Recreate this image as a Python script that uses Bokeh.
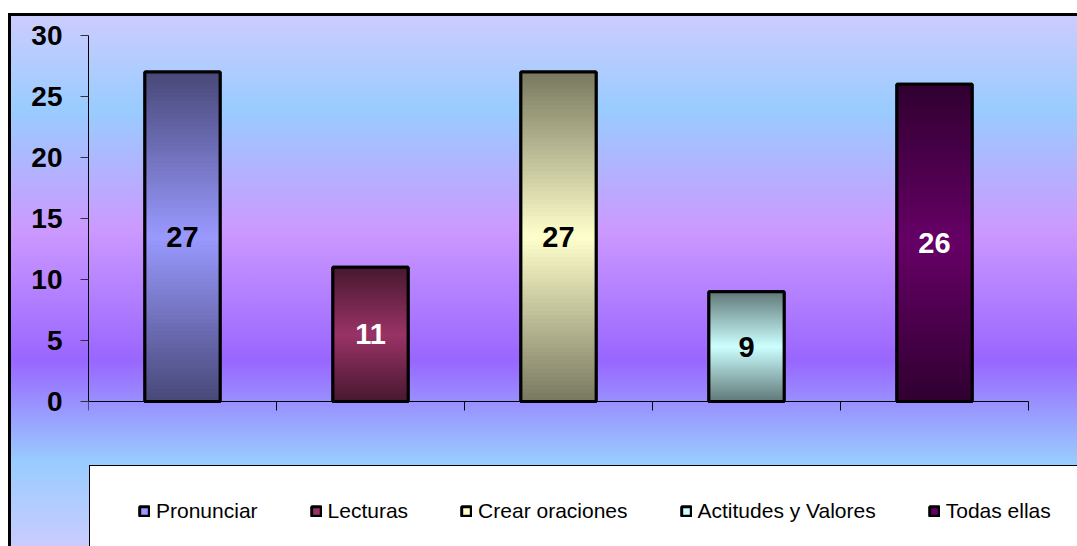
from bokeh.plotting import figure
from bokeh.models import (Range1d, LinearAxis, FixedTicker, Legend, LegendItem, ColumnDataSource)
from bokeh.core.properties import value
from bokeh.embed import file_html
from bokeh.resources import INLINE

# ---- data ----
categories = ["Pronunciar", "Lecturas", "Crear oraciones", "Actitudes y Valores", "Todas ellas"]
values = [27, 11, 27, 9, 26]
y_ticks = [0, 5, 10, 15, 20, 25, 30]

# ---- styles ----
light_colors = ["#9999FF", "#993366", "#FFFFCC", "#CCFFFF", "#660066"]
label_colors = ["black", "white", "black", "black", "white"]
FONT = "Liberation Sans"

W, H = 1077, 546
PLOT_L, PLOT_R, PLOT_T, PLOT_B = 88, 1028, 35, 401
Y_MAX = 30


def hex2rgb(h):
    h = h.lstrip("#")
    return [int(h[i:i + 2], 16) for i in (0, 2, 4)]


def rgb2hex(c):
    return "#%02x%02x%02x" % tuple(int(round(max(0, min(255, v)))) for v in c)


def mix(c1, c2, f):
    a, b = hex2rgb(c1), hex2rgb(c2)
    return rgb2hex([a[i] + (b[i] - a[i]) * f for i in range(3)])


n = len(categories)
xpos = [i + 0.5 for i in range(n)]          # category slot centres
edges = list(range(n + 1))                  # category slot boundaries
px_per_cat = (PLOT_R - PLOT_L) / n
px_per_unit = (PLOT_B - PLOT_T) / Y_MAX
x_end = (W - PLOT_L) / px_per_cat
y_start = -(H - PLOT_B) / px_per_unit

p = figure(width=W, height=H, x_range=Range1d(0, x_end), y_range=Range1d(y_start, Y_MAX),
           output_backend="svg", toolbar_location=None,
           x_axis_location=None, y_axis_location=None,
           min_border_left=PLOT_L, min_border_right=0, min_border_top=PLOT_T, min_border_bottom=0)
p.border_fill_color = None
p.background_fill_color = None
p.outline_line_color = None
p.xgrid.visible = False
p.ygrid.visible = False

# chart-area background (CSS layers behind the transparent canvas)
layers = [
    "linear-gradient(#ffffff,#ffffff) 90px 466px / 2000px 300px no-repeat",   # legend box
    "linear-gradient(#000000,#000000) 89px 465px / 2000px 300px no-repeat",   # legend border
    "linear-gradient(#ffffff,#ffffff) 0px 0px / 100% 13px no-repeat",
    "linear-gradient(#ffffff,#ffffff) 0px 0px / 8px 100% no-repeat",
    "linear-gradient(#000000,#000000) 8px 13px / 100% 3px no-repeat",
    "linear-gradient(#000000,#000000) 8px 13px / 3px 100% no-repeat",
    "linear-gradient(to bottom, #CCCCFF 16px, #99CCFF 110px, #CC99FF 230px, "
    "#9966FF 360px, #99CCFF 462px, #CCCCFF 550px) 0px 0px / 100% 100% no-repeat",
]
p.styles = {"background": ", ".join(layers)}

# ---- y axis ----
yaxis = LinearAxis(ticker=FixedTicker(ticks=y_ticks), bounds=(0, Y_MAX))
yaxis.major_tick_out = 8
yaxis.major_tick_in = 0
yaxis.minor_tick_out = 0
yaxis.minor_tick_in = 0
yaxis.axis_line_color = "black"
yaxis.major_tick_line_color = "#333333"
yaxis.major_label_text_font = FONT
yaxis.major_label_text_font_style = "bold"
yaxis.major_label_text_font_size = "28px"
yaxis.major_label_text_color = "black"
yaxis.major_label_standoff = 18
p.add_layout(yaxis, "left")

# ---- category axis line with ticks at slot boundaries ----
p.segment(x0=[0], y0=[0], x1=[n], y1=[0], line_color="black", line_width=1)
p.segment(x0=edges, y0=[0] * len(edges), x1=edges, y1=[-9 / px_per_unit] * len(edges),
          line_color="black", line_width=1)

# ---- bars ----
legend_bars = p.vbar(x=xpos, top=values, width=0.4, fill_color=light_colors,
                     line_color="black", line_width=3)

xs, bots, tops, cols = [], [], [], []
NS = 80
for x, v, lc in zip(xpos, values, light_colors):
    dark = rgb2hex([c * 0.47 for c in hex2rgb(lc)])
    for k in range(NS):
        b = v * k / NS
        t = min(v, v * (k + 1.8) / NS)
        tc = (k + 0.5) / NS
        f = 1 - abs(2 * tc - 1)
        xs.append(x)
        bots.append(b)
        tops.append(t)
        cols.append(mix(dark, lc, f))
p.vbar(x="x", bottom="b", top="t", width=0.4, fill_color="c", line_color=None,
       source=ColumnDataSource(dict(x=xs, b=bots, t=tops, c=cols)))

p.vbar(x=xpos, top=values, width=0.4, fill_alpha=0, line_color="black", line_width=3)

# value labels
p.text(x=xpos, y=[v / 2 for v in values], text=[str(v) for v in values],
       text_color=label_colors, text_font=value(FONT), text_font_style="bold",
       text_font_size="29px", text_align="center", text_baseline="middle")

# ---- legend ----
items = [LegendItem(label=cat, renderers=[legend_bars], index=i) for i, cat in enumerate(categories)]
legend = Legend(items=items, orientation="horizontal", location=(50, 23),
                glyph_width=12, glyph_height=12, label_standoff=6, spacing=52,
                padding=0, margin=0, border_line_alpha=0, background_fill_alpha=0,
                label_text_font=FONT, label_text_font_size="21px", label_text_color="black")
p.add_layout(legend, "center")

open("out.html", "w").write(file_html(p, INLINE))
